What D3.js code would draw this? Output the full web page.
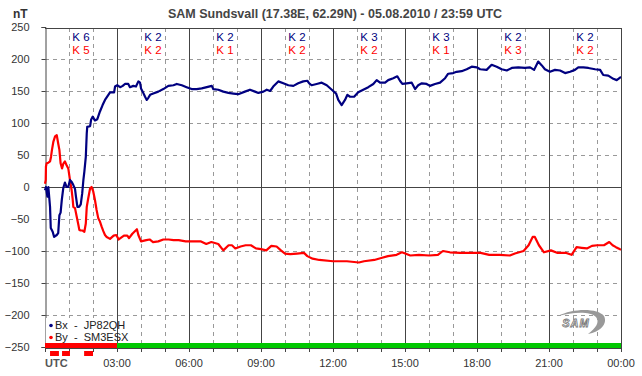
<!DOCTYPE html>
<html><head><meta charset="utf-8">
<script src="https://cdn.jsdelivr.net/npm/d3@7"></script>
<style>
html,body{margin:0;padding:0;background:#fff;}
svg{display:block;font-family:"Liberation Sans",Arial,sans-serif;}
</style></head>
<body>
<svg id="chart" width="642" height="376"></svg>
<script>
const titleText = "SAM Sundsvall (17.38E, 62.29N) - 05.08.2010 / 23:59 UTC";
const yTicks = [250,200,150,100,50,0,-50,-100,-150,-200,-250];
const xTickHours = [3,6,9,12,15,18,21,24];
const xTickLabels = ["03:00","06:00","09:00","12:00","15:00","18:00","21:00","00:00"];
const kBx = [6,2,2,2,3,3,2,2];
const kBy = [5,2,1,2,2,1,3,2];
const bxTime = [0,0.04,0.10,0.14,0.21,0.24,0.32,0.38,0.49,0.55,0.60,0.65,0.70,0.76,0.83,0.90,0.97,1.04,1.11,1.18,1.25,1.29,1.35,1.42,1.49,1.55,1.60,1.64,1.70,1.74,1.76,1.88,1.92,1.99,2.08,2.18,2.29,2.40,2.50,2.71,2.88,2.92,3.01,3.13,3.24,3.33,3.47,3.54,3.68,3.79,3.89,3.96,4.00,4.07,4.17,4.24,4.30,4.38,4.51,4.72,4.93,5.14,5.35,5.49,5.70,5.90,6.11,6.32,6.53,6.74,6.95,7.01,7.22,7.43,7.64,7.85,8.05,8.33,8.54,8.75,8.89,9.10,9.24,9.38,9.51,9.72,9.93,10.14,10.35,10.55,10.76,10.93,11.01,11.11,11.32,11.53,11.74,11.95,12.13,12.22,12.36,12.50,12.60,12.71,12.88,13.05,13.26,13.47,13.68,13.82,13.96,14.17,14.30,14.51,14.68,14.79,14.89,15.07,15.28,15.42,15.55,15.70,15.90,16.04,16.25,16.46,16.67,16.80,17.01,17.15,17.36,17.57,17.78,17.99,18.13,18.40,18.61,18.82,19.03,19.24,19.45,19.72,20.00,20.21,20.38,20.55,20.70,20.83,21.04,21.25,21.46,21.67,21.88,22.08,22.22,22.43,22.64,22.92,23.13,23.26,23.47,23.68,23.82,23.96,24.0];
const bxValue = [-5,0,-15,0,-31,-64,-70,-78,-75,-72,-44,-40,-20,-2,7,0,0,11,8,3,-3,-15,-31,-31,-27,-10,11,24,47,84,94,95,105,110,104,106,118,128,136,148,148,157,159,156,158,161,161,156,158,157,165,163,154,149,141,136,139,144,146,149,153,158,159,161,159,156,153,153,154,156,158,153,152,149,147,146,145,149,152,149,147,149,152,150,157,165,162,159,158,162,165,166,162,159,161,163,159,152,146,136,128,136,144,141,141,148,152,156,161,167,163,163,167,170,173,166,161,162,163,153,159,162,161,158,161,163,170,177,178,180,181,184,188,187,184,183,191,188,184,182,186,187,186,187,183,196,190,184,180,183,182,178,180,183,187,187,186,184,183,175,174,169,167,171,172];
const byTime = [0,0.03,0.04,0.07,0.14,0.21,0.25,0.29,0.35,0.42,0.49,0.55,0.60,0.65,0.71,0.76,0.83,0.90,0.97,1.04,1.11,1.15,1.18,1.25,1.32,1.39,1.43,1.49,1.57,1.64,1.70,1.74,1.80,1.88,1.94,2.01,2.08,2.15,2.22,2.29,2.36,2.43,2.50,2.57,2.71,2.86,2.97,3.07,3.29,3.43,3.50,3.64,3.83,3.89,4.00,4.22,4.36,4.50,4.72,4.93,5.15,5.36,5.57,5.86,6.15,6.50,6.72,6.93,7.22,7.43,7.65,7.79,7.93,8.15,8.36,8.58,8.79,9.00,9.22,9.43,9.65,9.83,10.00,10.22,10.50,10.79,10.93,11.15,11.43,12.00,12.58,13.08,13.29,13.72,14.01,14.29,14.65,14.87,15.01,15.22,15.58,16.01,16.37,16.58,16.87,17.30,17.73,18.15,18.51,18.94,19.37,19.58,19.94,20.15,20.32,20.41,20.58,20.79,21.08,21.36,21.72,21.94,22.15,22.36,22.58,22.79,23.01,23.29,23.51,23.65,23.79,23.94,24.0];
const byValue = [5,11,32,37,38,40,47,58,71,79,81,68,58,37,29,36,40,34,29,11,-5,-18,-31,-33,-46,-59,-67,-68,-68,-70,-57,-31,-18,-2,0,-7,-20,-36,-49,-54,-62,-69,-75,-78,-81,-76,-75,-82,-76,-76,-80,-73,-66,-75,-85,-83,-82,-86,-85,-82,-82,-83,-83,-85,-85,-85,-89,-86,-89,-99,-91,-91,-96,-93,-91,-91,-96,-97,-99,-92,-93,-99,-104,-105,-104,-103,-108,-112,-114,-116,-116,-118,-116,-114,-111,-108,-106,-102,-104,-107,-106,-107,-106,-100,-102,-103,-103,-103,-106,-106,-107,-104,-100,-91,-78,-78,-91,-102,-99,-103,-103,-106,-94,-95,-96,-92,-91,-91,-86,-91,-94,-97,-98];
const barStart = [0,3];
const barEnd = [3,24];
const barColor = ["#ff0000","#00c800"];
const markStart = [0.21,0.71,1.63];
const markEnd = [0.58,1.04,2.0];
const legendLabels = ["Bx  -  JP82QH","By  -  SM3ESX"];
const seriesColors = ["#000080","#ff0000"];

const svg = d3.select("#chart");
const x = d3.scaleLinear().domain([0,24]).range([45,621]);
const y = d3.scaleLinear().domain([-250,250]).range([347,27]);
const textCol = "#333";

// title
svg.append("text").attr("x",335).attr("y",18).attr("text-anchor","middle")
  .attr("font-size",12.5).attr("font-weight","bold").attr("fill","#444").text(titleText);
svg.append("text").attr("x",13).attr("y",18).attr("font-size",12).attr("font-weight","bold").attr("fill","#333").text("nT");

// grid horizontal dashed
const g = svg.append("g");
g.selectAll("line.hg").data(yTicks.filter(v=>v!==0 && Math.abs(v)!==250)).enter().append("line")
  .attr("x1",45).attr("x2",621).attr("y1",d=>Math.round(y(d))+0.5).attr("y2",d=>Math.round(y(d))+0.5)
  .attr("stroke","#999").attr("stroke-dasharray","4,4");
// vertical dashed hourly
const hours = d3.range(1,24).filter(h=>h%3!==0);
g.selectAll("line.vg").data(hours).enter().append("line")
  .attr("x1",d=>Math.round(x(d))+0.5).attr("x2",d=>Math.round(x(d))+0.5).attr("y1",28).attr("y2",343)
  .attr("stroke","#999").attr("stroke-dasharray","4,4");
// vertical solid 3h
g.selectAll("line.vs").data(xTickHours).enter().append("line")
  .attr("x1",d=>Math.round(x(d))+0.5).attr("x2",d=>Math.round(x(d))+0.5).attr("y1",28).attr("y2",343)
  .attr("stroke","#444").attr("stroke-width",1);
// zero line
g.append("line").attr("x1",45).attr("x2",621).attr("y1",Math.round(y(0))+0.5).attr("y2",Math.round(y(0))+0.5)
  .attr("stroke","#444");
// top border
g.append("line").attr("x1",45).attr("x2",622).attr("y1",28.5).attr("y2",28.5).attr("stroke","#444");

// left axis
const yAxis = d3.axisLeft(y).tickValues(yTicks).tickSize(4).tickPadding(12).tickFormat(d3.format("d"));
const ya = svg.append("g").attr("transform","translate(45.5,0)").call(yAxis);
ya.select(".domain").attr("stroke","#444");
ya.selectAll(".tick line").attr("stroke","#444");
ya.selectAll(".tick text").attr("font-size",11).attr("fill",textCol).attr("font-family","'Liberation Sans',Arial,sans-serif");

// K labels
const kCenters = d3.range(8).map(i=>i*3+1.5);
svg.selectAll("text.kb").data(kBx).enter().append("text")
  .attr("x",(d,i)=>x(kCenters[i])).attr("y",41).attr("text-anchor","middle")
  .attr("font-size",11.5).attr("fill",seriesColors[0]).text(d=>"K "+d);
svg.selectAll("text.kr").data(kBy).enter().append("text")
  .attr("x",(d,i)=>x(kCenters[i])).attr("y",54).attr("text-anchor","middle")
  .attr("font-size",11.5).attr("fill",seriesColors[1]).text(d=>"K "+d);

// lines
const line = d3.line().x(d=>x(d[0])).y(d=>y(d[1]));
const bxData = bxTime.map((t,i)=>[t,bxValue[i]]);
const byData = byTime.map((t,i)=>[t,byValue[i]]);
svg.append("path").datum(byData).attr("d",line).attr("fill","none").attr("stroke",seriesColors[1]).attr("stroke-width",2.2).attr("stroke-linejoin","round");
svg.append("path").datum(bxData).attr("d",line).attr("fill","none").attr("stroke",seriesColors[0]).attr("stroke-width",2.2).attr("stroke-linejoin","round");

// legend box
svg.append("rect").attr("x",46).attr("y",318).attr("width",70).attr("height",25).attr("fill","#fff");
legendLabels.forEach((lab,i)=>{
  const ly = 329 + i*12;
  svg.append("circle").attr("cx",51).attr("cy",ly-3.5).attr("r",1.8).attr("fill",seriesColors[i]);
  svg.append("text").attr("x",55).attr("y",ly).attr("font-size",11).attr("fill","#222").attr("xml:space","preserve").text(lab);
});

// right border
svg.append("line").attr("x1",621.5).attr("x2",621.5).attr("y1",28).attr("y2",348).attr("stroke","#444");

// bottom bar
svg.selectAll("rect.bar").data(barStart).enter().append("rect")
  .attr("x",(d)=>x(d)).attr("width",(d,i)=>x(barEnd[i])-x(d)).attr("y",343).attr("height",5)
  .attr("fill",(d,i)=>barColor[i]);
// bottom ticks
svg.selectAll("line.bt").data(d3.range(0,25)).enter().append("line")
  .attr("x1",d=>Math.round(x(d))+0.5).attr("x2",d=>Math.round(x(d))+0.5).attr("y1",348).attr("y2",352)
  .attr("stroke","#444");
svg.append("line").attr("x1",45).attr("x2",622).attr("y1",348.5).attr("y2",348.5).attr("stroke","#444");
// red markers
svg.selectAll("rect.mk").data(markStart).enter().append("rect")
  .attr("x",d=>x(d)).attr("width",(d,i)=>x(markEnd[i])-x(d)).attr("y",351).attr("height",5).attr("fill","#ff0000");

// x labels
svg.selectAll("text.xl").data(xTickHours).enter().append("text")
  .attr("x",d=>x(d)).attr("y",367).attr("text-anchor","middle").attr("font-size",11).attr("fill",textCol)
  .text((d,i)=>xTickLabels[i]);
svg.append("text").attr("x",45).attr("y",367).attr("font-size",11).attr("font-weight","bold").attr("fill","#555").text("UTC");

// SAM logo
const logo = svg.append("g").attr("transform","translate(578,322)");
logo.append("path").attr("d","M-20,-6 C-5,-14 20,-14 26,-6 C30,2 22,10 10,12 C18,6 22,0 18,-5 C12,-11 -5,-10 -20,-6 Z").attr("fill","#999");
logo.append("text").attr("x",-2).attr("y",5).attr("text-anchor","middle").attr("font-size",11).attr("font-style","italic")
  .attr("font-weight","bold").attr("fill","#fff").attr("stroke","#777").attr("stroke-width",0.8).attr("letter-spacing",1).text("SAM");
</script>
</body></html>
